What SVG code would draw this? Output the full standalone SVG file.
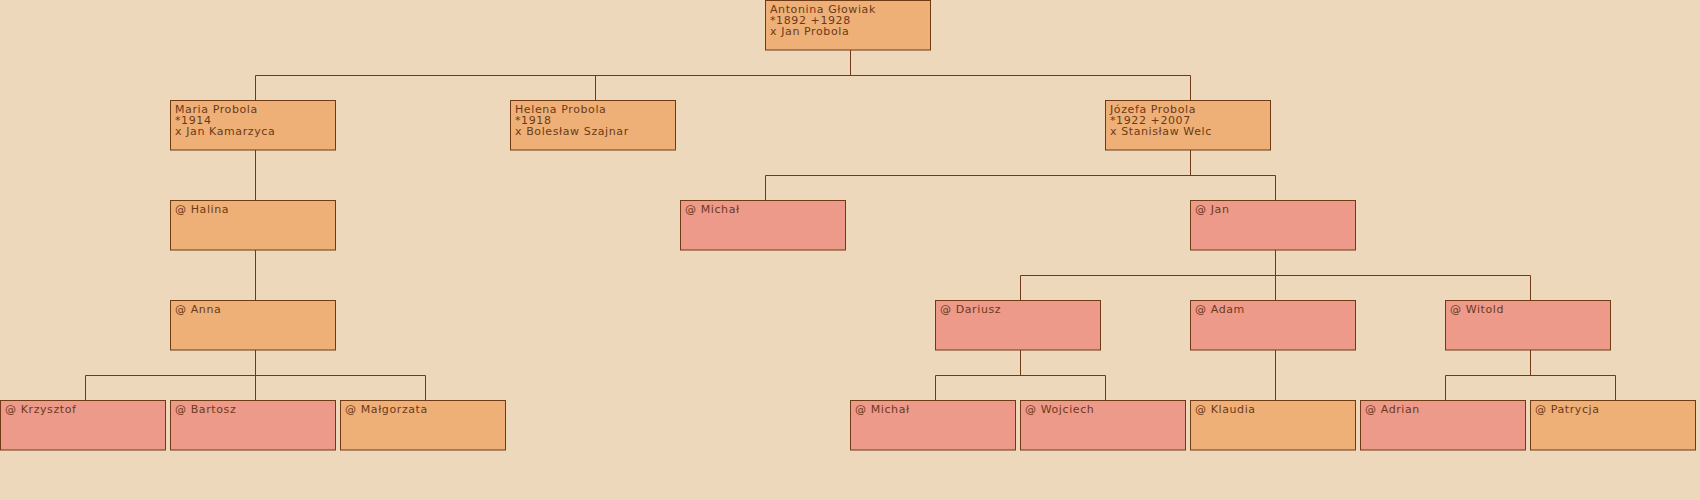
<svg xmlns="http://www.w3.org/2000/svg" width="1700" height="500" viewBox="0 0 1700 500">
<style>
.bg{fill:#eed8bb}
.o{fill:#eeb077;stroke:#6e3b14;stroke-width:1}
.p{fill:#ee9a8a;stroke:#6e3b14;stroke-width:1}
text{font-family:"DejaVu Sans",sans-serif;font-size:11px;letter-spacing:0.6px;fill:#6b3a1a}
.c{fill:none;stroke:#6e3b14;stroke-width:1}
</style>
<rect class="bg" x="0" y="0" width="1700" height="500"/>
<g id="connectors">
<path class="c" d="M850.5 50V75.5M255.5 75.5H1190.5M255.5 75.5V100M595.5 75.5V100M1190.5 75.5V100"/>
<path class="c" d="M255.5 150V200M255.5 250V300"/>
<path class="c" d="M1190.5 150V175.5M765.5 175.5H1275.5M765.5 175.5V200M1275.5 175.5V200"/>
<path class="c" d="M1275.5 250V275.5M1020.5 275.5H1530.5M1020.5 275.5V300M1275.5 275.5V300M1530.5 275.5V300"/>
<path class="c" d="M255.5 350V375.5M85.5 375.5H425.5M85.5 375.5V400M255.5 375.5V400M425.5 375.5V400"/>
<path class="c" d="M1020.5 350V375.5M935.5 375.5H1105.5M935.5 375.5V400M1105.5 375.5V400"/>
<path class="c" d="M1275.5 350V400"/>
<path class="c" d="M1530.5 350V375.5M1445.5 375.5H1615.5M1445.5 375.5V400M1615.5 375.5V400"/>
</g>
<g id="antonina"><rect class="o" x="765.5" y="0.5" width="165" height="49.5"/><text x="770" y="13">Antonina Głowiak</text><text x="770" y="24">*1892 +1928</text><text x="770" y="35">x Jan Probola</text></g>
<g id="maria"><rect class="o" x="170.5" y="100.5" width="165" height="49.5"/><text x="175" y="113">Maria Probola</text><text x="175" y="124">*1914</text><text x="175" y="135">x Jan Kamarzyca</text></g>
<g id="helena"><rect class="o" x="510.5" y="100.5" width="165" height="49.5"/><text x="515" y="113">Helena Probola</text><text x="515" y="124">*1918</text><text x="515" y="135">x Bolesław Szajnar</text></g>
<g id="jozefa"><rect class="o" x="1105.5" y="100.5" width="165" height="49.5"/><text x="1110" y="113">Józefa Probola</text><text x="1110" y="124">*1922 +2007</text><text x="1110" y="135">x Stanisław Welc</text></g>
<g id="halina"><rect class="o" x="170.5" y="200.5" width="165" height="49.5"/><text x="175" y="213">@ Halina</text></g>
<g id="michal1"><rect class="p" x="680.5" y="200.5" width="165" height="49.5"/><text x="685" y="213">@ Michał</text></g>
<g id="jan"><rect class="p" x="1190.5" y="200.5" width="165" height="49.5"/><text x="1195" y="213">@ Jan</text></g>
<g id="anna"><rect class="o" x="170.5" y="300.5" width="165" height="49.5"/><text x="175" y="313">@ Anna</text></g>
<g id="dariusz"><rect class="p" x="935.5" y="300.5" width="165" height="49.5"/><text x="940" y="313">@ Dariusz</text></g>
<g id="adam"><rect class="p" x="1190.5" y="300.5" width="165" height="49.5"/><text x="1195" y="313">@ Adam</text></g>
<g id="witold"><rect class="p" x="1445.5" y="300.5" width="165" height="49.5"/><text x="1450" y="313">@ Witold</text></g>
<g id="krzysztof"><rect class="p" x="0.5" y="400.5" width="165" height="49.5"/><text x="5" y="413">@ Krzysztof</text></g>
<g id="bartosz"><rect class="p" x="170.5" y="400.5" width="165" height="49.5"/><text x="175" y="413">@ Bartosz</text></g>
<g id="malgorzata"><rect class="o" x="340.5" y="400.5" width="165" height="49.5"/><text x="345" y="413">@ Małgorzata</text></g>
<g id="michal2"><rect class="p" x="850.5" y="400.5" width="165" height="49.5"/><text x="855" y="413">@ Michał</text></g>
<g id="wojciech"><rect class="p" x="1020.5" y="400.5" width="165" height="49.5"/><text x="1025" y="413">@ Wojciech</text></g>
<g id="klaudia"><rect class="o" x="1190.5" y="400.5" width="165" height="49.5"/><text x="1195" y="413">@ Klaudia</text></g>
<g id="adrian"><rect class="p" x="1360.5" y="400.5" width="165" height="49.5"/><text x="1365" y="413">@ Adrian</text></g>
<g id="patrycja"><rect class="o" x="1530.5" y="400.5" width="165" height="49.5"/><text x="1535" y="413">@ Patrycja</text></g>
</svg>
